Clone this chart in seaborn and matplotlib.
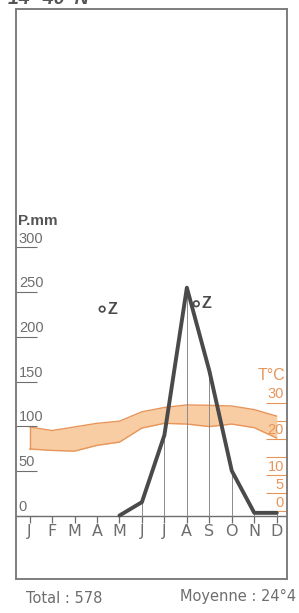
import numpy as np
import pandas as pd
import matplotlib
matplotlib.use("Agg")
from matplotlib import pyplot as plt
import seaborn as sns

# climate diagram data
months = ['J', 'F', 'M', 'A', 'M', 'J', 'J', 'A', 'S', 'O', 'N', 'D']
month_idx = list(range(1, 13))
precip = [0, 0, 0, 0, 0, 15, 90, 255, 162, 50, 3, 3]
temp_high = [23.4, 22.4, 23.4, 24.4, 25.0, 27.6, 28.8, 29.5, 29.4, 29.2, 28.2, 26.4]
temp_low = [17.3, 16.9, 16.7, 18.3, 19.2, 23.1, 24.4, 24.2, 23.5, 24.2, 23.2, 20.3]
p_ticks = [0, 50, 100, 150, 200, 250, 300]
t_ticks = [0, 5, 10, 15, 20, 25, 30]
t_labels = ['0', '5', '10', '', '20', '', '30']
zenith_x = [4.23, 8.42]
zenith_y = [231, 237]
title = "14° 40' N"
total_text = "Total : 578"
mean_text = "Moyenne : 24°4"

GRAY = '#6e6e6e'
DARK = '#4a4a4a'
ORANGE = '#e8955a'
PEACH = '#f8cda3'
NARROW = ['Liberation Sans Narrow', 'Liberation Sans', 'DejaVu Sans']

sns.set_theme()
sns.set_style("white")
plt.rcParams['font.family'] = ['Liberation Sans', 'DejaVu Sans']

fig = plt.figure(figsize=(2.99, 6.13), dpi=100)
ax = fig.add_axes([0.052, 0.0555, 0.907, 0.930])

# P = 4.04 T + 4.6
p_lo, p_hi = -71, 567
ax.set_xlim(0.376, 12.445)
ax.set_ylim(p_lo, p_hi)

ax2 = ax.twinx()
ax2.set_ylim((p_lo - 4.6) / 4.04, (p_hi - 4.6) / 4.04)

df = pd.DataFrame({'month': month_idx, 'precip': precip,
                   'tmax': temp_high, 'tmin': temp_low})

# temperature band
ax2.fill_between(df['month'], df['tmin'], df['tmax'], color=PEACH, lw=0, zorder=1)
sns.lineplot(data=df, x='month', y='tmax', ax=ax2, color=ORANGE, lw=1.0, zorder=2)
sns.lineplot(data=df, x='month', y='tmin', ax=ax2, color=ORANGE, lw=1.0, zorder=2)
ax2.plot([1, 1], [df['tmin'][0], df['tmax'][0]], color=ORANGE, lw=1.0)

# precipitation
wet = df[df['month'] >= 5]
ax.vlines(wet['month'], 0, wet['precip'], color='#8a8a8a', lw=0.7, zorder=3)
sns.lineplot(data=wet, x='month', y='precip', ax=ax, color=DARK, lw=2.8, zorder=4)
ax.set_zorder(ax2.get_zorder() + 1)
ax.patch.set_visible(False)

# baseline and month ticks
ax.axhline(0, color=GRAY, lw=1.0)
ax.vlines(month_idx, -8, 0, color=GRAY, lw=0.9)
for m, lab in zip(month_idx, months):
    ax.text(m, -10, lab, ha='center', va='top', color=GRAY, fontsize=11.5,
            family='DejaVu Sans')

# left axis (P.mm)
ax.set_yticks(p_ticks)
ax.tick_params(axis='y', direction='in', length=15, width=0.8, color=GRAY,
               labelleft=False, left=True)
ytr = ax.get_yaxis_transform()
for v in p_ticks:
    ax.text(0.012, v + 2, str(v), transform=ytr, ha='left', va='bottom',
            color=GRAY, fontsize=10.5, family=NARROW)
ax.text(0.01, 322, 'P.mm', transform=ytr, ha='left', va='bottom',
        color='#555555', fontsize=11, fontweight='bold')

# right axis (T°C)
ax2.set_yticks(t_ticks)
ax2.tick_params(axis='y', direction='in', length=15, width=0.8, color=ORANGE,
                labelright=False, right=True)
ttr = ax2.get_yaxis_transform()
for v, lab in zip(t_ticks, t_labels):
    if lab:
        ax2.text(0.99, v + 0.5, lab, transform=ttr, ha='right', va='bottom',
                 color=ORANGE, fontsize=10.5, family=NARROW)
ax2.text(0.995, 35.5, 'T°C', transform=ttr, ha='right', va='bottom',
         color=ORANGE, fontsize=11.5)

# zenith markers
ax.scatter(zenith_x, zenith_y, s=16, facecolors='none', edgecolors=DARK,
           linewidths=1.2, zorder=5)
for zx, zy in zip(zenith_x, zenith_y):
    ax.text(zx + 0.22, zy, 'Z', ha='left', va='center', color=DARK,
            fontsize=11.5, fontweight='bold')

ax.set_xticks([])
ax2.set_xticks([])
ax.set_xlabel('')
ax.set_ylabel('')
ax2.set_ylabel('')
for a in (ax, ax2):
    for s in a.spines.values():
        s.set_color('#7a7a7a')
        s.set_linewidth(1.1)

fig.text(8 / 299, 1 - 4 / 613, title, ha='left', va='baseline', color='#555555',
         fontsize=14, fontweight='bold', style='italic')
fig.text(26 / 299, 1 - 603 / 613, total_text, ha='left', va='baseline',
         color=GRAY, fontsize=10.5, family='DejaVu Sans')
fig.text(296 / 299, 1 - 601 / 613, mean_text, ha='right', va='baseline',
         color=GRAY, fontsize=10.5, family='DejaVu Sans')

fig.savefig('out.png', dpi=100)
